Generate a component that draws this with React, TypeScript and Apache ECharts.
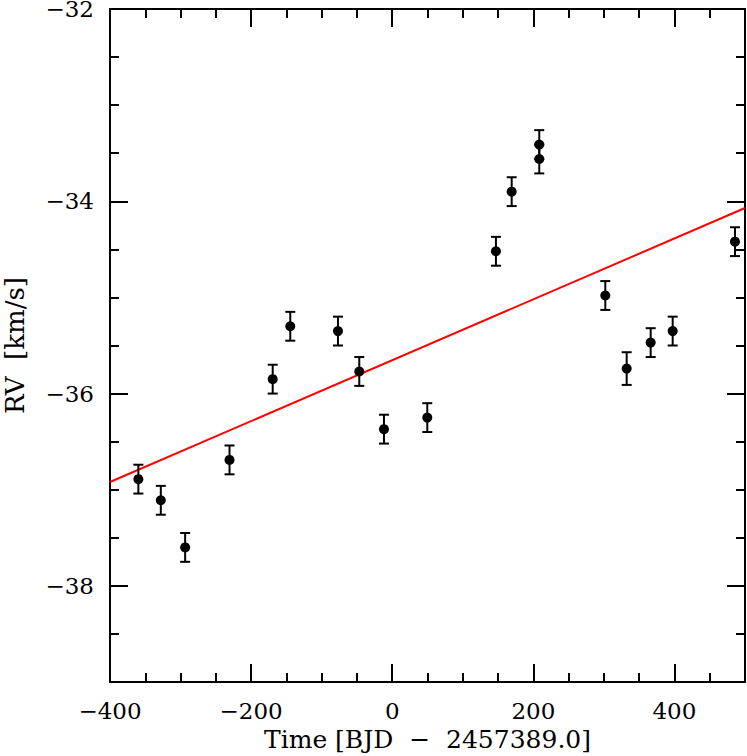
import React, { useEffect, useRef } from "react";
import * as echarts from "echarts";

const times = [-359.8, -328, -293.5, -230.6, -169.4, -144.5, -76.9, -46.7, -11.7, 49.7, 147, 169.3, 208.4, 208.4, 302, 332.3, 366.3, 397.5, 485.8];
const rvs = [-36.89, -37.11, -37.6, -36.69, -35.85, -35.3, -35.35, -35.77, -36.37, -36.25, -34.52, -33.9, -33.41, -33.56, -34.98, -35.74, -35.47, -35.35, -34.42];
const errs = [0.15, 0.15, 0.15, 0.15, 0.15, 0.15, 0.15, 0.15, 0.15, 0.15, 0.15, 0.15, 0.15, 0.15, 0.15, 0.17, 0.15, 0.15, 0.15];
const fitT = [-400, 500];
const fitRV = [-36.92, -34.07];
const yMajorTicks = [-38, -36, -34, -32];

const FONT = "DejaVu Serif";

export default function App() {
  const ref = useRef<HTMLDivElement>(null);
  useEffect(() => {
    if (!ref.current) return;
    const chart = echarts.init(ref.current, null, { renderer: "svg" });
    const minus = (v: number) => String(v).replace("-", "\u2212");
    const line = { color: "#000", width: 2 };
    const xCommon = {
      type: "value", min: -400, max: 500, interval: 200,
      axisLine: { show: true, onZero: false, lineStyle: line },
      axisTick: { show: true, inside: true, length: 18, lineStyle: line },
      minorTick: { show: true, splitNumber: 4, length: 9, lineStyle: line },
      splitLine: { show: false },
    };
    const yMinor = {
      type: "value", min: -39, max: -32, interval: 0.5,
      axisLine: { show: true, onZero: false, lineStyle: line },
      axisTick: { show: true, inside: true, length: 9, lineStyle: line },
      axisLabel: { show: false },
      splitLine: { show: false },
    };
    const yMajor = {
      type: "value", min: -39, max: -32,
      axisLine: { show: false, onZero: false },
      axisTick: { show: true, inside: true, length: 18, lineStyle: line, customValues: yMajorTicks },
      splitLine: { show: false },
    };
    chart.setOption({
      animation: false,
      backgroundColor: "#fff",
      grid: { left: 110, right: 2, top: 9, bottom: 74, outerBoundsMode: "none", containLabel: false },
      xAxis: [
        {
          ...xCommon, position: "bottom",
          axisLabel: { show: true, formatter: minus, fontFamily: FONT, fontSize: 23, lineHeight: 18, color: "#000", margin: 20, showMaxLabel: false },
          name: "Time [BJD  \u2212  2457389.0]",
          nameLocation: "middle", nameGap: 44,
          nameTextStyle: { fontFamily: FONT, fontSize: 25, lineHeight: 22, color: "#000" },
        },
        { ...xCommon, position: "top", axisLabel: { show: false } },
      ],
      yAxis: [
        { ...yMinor, position: "left" },
        {
          ...yMajor, position: "left",
          axisLabel: { show: true, formatter: minus, customValues: yMajorTicks, fontFamily: FONT, fontSize: 23, lineHeight: 18, color: "#000", margin: 16 },
          name: "RV  [km/s]",
          nameLocation: "middle", nameGap: 84,
          nameTextStyle: { fontFamily: FONT, fontSize: 26, lineHeight: 22, color: "#000" },
        },
        { ...yMinor, position: "right" },
        { ...yMajor, position: "right", axisLabel: { show: false } },
      ],
      series: [
        {
          type: "line",
          data: fitT.map((t, i) => [t, fitRV[i]]),
          showSymbol: false,
          lineStyle: { color: "#ff0000", width: 2 },
          z: 2,
        },
        {
          type: "custom",
          data: times.map((t, i) => [t, rvs[i], errs[i]]),
          renderItem: (params: any, api: any) => {
            const x = api.value(0);
            const y = api.value(1);
            const e = api.value(2);
            const top = api.coord([x, y + e]);
            const bot = api.coord([x, y - e]);
            const w = 5;
            const style = { stroke: "#000", lineWidth: 2 };
            return {
              type: "group",
              children: [
                { type: "line", shape: { x1: top[0], y1: top[1], x2: bot[0], y2: bot[1] }, style },
                { type: "line", shape: { x1: top[0] - w, y1: top[1], x2: top[0] + w, y2: top[1] }, style },
                { type: "line", shape: { x1: bot[0] - w, y1: bot[1], x2: bot[0] + w, y2: bot[1] }, style },
              ],
            };
          },
          z: 3,
        },
        {
          type: "scatter",
          data: times.map((t, i) => [t, rvs[i]]),
          symbol: "circle",
          symbolSize: 10,
          itemStyle: { color: "#000", opacity: 1 },
          z: 4,
        },
      ],
    });
    return () => chart.dispose();
  }, []);
  return <div ref={ref} style={{ position: "absolute", left: 0, top: 0, width: 747, height: 756 }} />;
}
